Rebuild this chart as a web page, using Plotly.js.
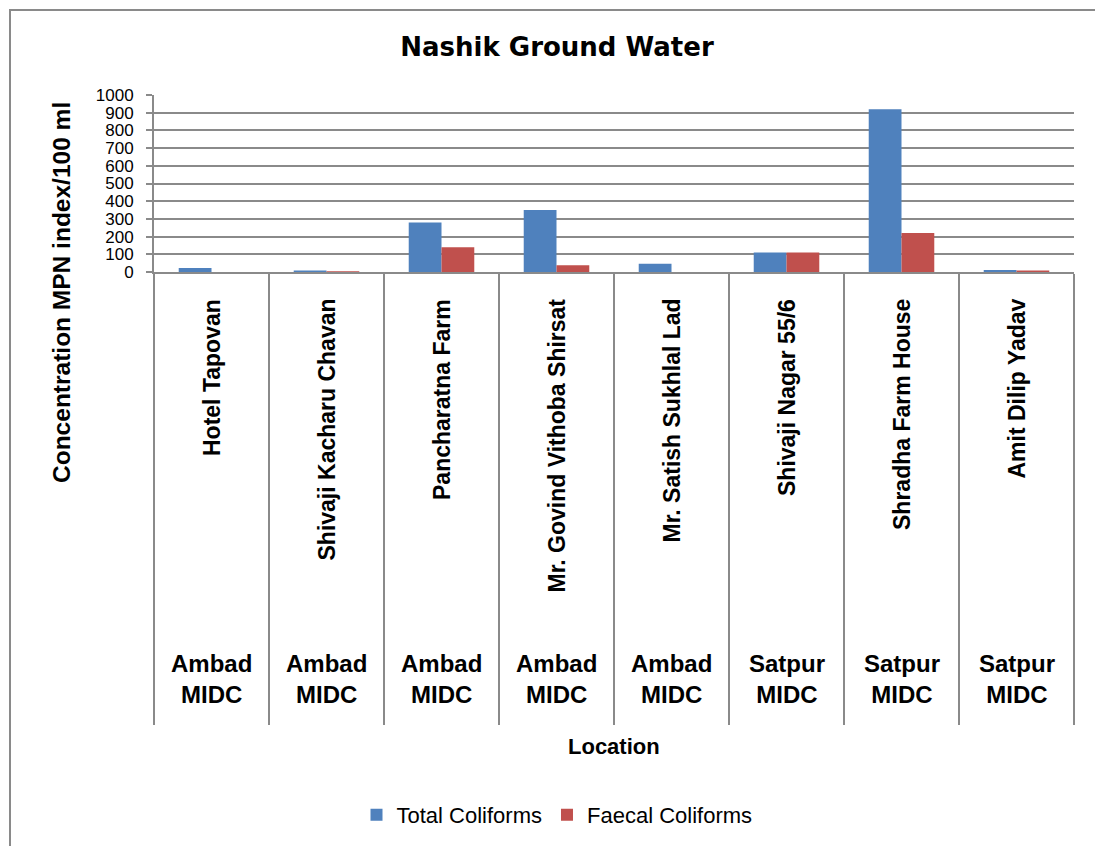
<!DOCTYPE html>
<html>
<head>
<meta charset="utf-8">
<script src="https://cdn.plot.ly/plotly-3.0.1.min.js"></script>
<style>html,body{margin:0;padding:0;background:#fff;} #chart{width:1095px;height:846px;}</style>
</head>
<body>
<div id="chart"></div>
<script>
// ---- data ----
const locations = ['Hotel Tapovan', 'Shivaji Kacharu Chavan', 'Pancharatna Farm', 'Mr. Govind Vithoba Shirsat',
  'Mr. Satish Sukhlal Lad', 'Shivaji Nagar 55/6', 'Shradha Farm House', 'Amit Dilip Yadav'];
const regions = ['Ambad MIDC', 'Ambad MIDC', 'Ambad MIDC', 'Ambad MIDC', 'Ambad MIDC', 'Satpur MIDC', 'Satpur MIDC', 'Satpur MIDC'];
const totalColiforms = [23, 9, 280, 350, 47, 110, 920, 11];
const faecalColiforms = [0, 4, 140, 38, 0, 110, 220, 9];
const yTicks = [0, 100, 200, 300, 400, 500, 600, 700, 800, 900, 1000];

// ---- layout helpers (plot area in px) ----
const W = 1095, H = 846;
const L = 154, R = 1074, T = 95, B = 272;
const px2x = p => (p - L) / (R - L);
const py2y = p => (B - p) / (B - T);

const boldFont = 'Liberation Sans, Arial, sans-serif';
const plainFont = 'Liberation Sans, Arial, sans-serif';

const traces = [
  {type: 'bar', name: 'Total Coliforms', x: locations, y: totalColiforms, marker: {color: '#4F81BD'}},
  {type: 'bar', name: 'Faecal Coliforms', x: locations, y: faecalColiforms, marker: {color: '#C0504D'}}
];

const annotations = [];
locations.forEach((name, i) => {
  annotations.push({x: name, xref: 'x', y: py2y(297), yref: 'paper', text: '<b>' + name + '</b>',
    textangle: -90, showarrow: false, xanchor: 'center', yanchor: 'top',
    font: {family: boldFont, size: 23, color: '#000'}});
  const parts = regions[i].split(' ');
  annotations.push({x: name, xref: 'x', y: py2y(679), yref: 'paper',
    text: '<b>' + parts[0] + '<br>' + parts[1] + '</b>', showarrow: false,
    xanchor: 'center', yanchor: 'middle', font: {family: boldFont, size: 24, color: '#000'}});
});
annotations.push({x: 0.5, xref: 'paper', y: py2y(746), yref: 'paper', text: '<b>Location</b>',
  showarrow: false, xanchor: 'center', yanchor: 'middle', font: {family: boldFont, size: 22, color: '#000'}});
annotations.push({x: px2x(61), xref: 'paper', y: py2y(293), yref: 'paper', text: '<b>Concentration MPN index/100 ml</b>',
  textangle: -90, showarrow: false, xanchor: 'center', yanchor: 'middle', font: {family: boldFont, size: 24.5, color: '#000'}});

const layout = {
  width: W, height: H,
  margin: {l: L, r: W - R, t: T, b: H - B, pad: 0},
  paper_bgcolor: '#fff', plot_bgcolor: '#fff',
  title: {text: '<b>Nashik Ground Water</b>', x: 557 / W, xref: 'container', xanchor: 'center',
    y: 1 - 47 / H, yref: 'container', yanchor: 'middle',
    font: {family: 'DejaVu Sans, Verdana, sans-serif', size: 26, color: '#000'}},
  barmode: 'group', bargap: 0.43, bargroupgap: 0,
  showlegend: true,
  legend: {orientation: 'h', x: 557 / W, xref: 'container', xanchor: 'center',
    y: 1 - 815 / H, yref: 'container', yanchor: 'middle',
    font: {family: plainFont, size: 22, color: '#000'}, itemwidth: 30, tracegroupgap: 0},
  xaxis: {type: 'category', showticklabels: false, showgrid: false, tickson: 'boundaries',
    ticks: 'outside', ticklen: 451, tickwidth: 2, tickcolor: '#8a8a8a',
    showline: true, linecolor: '#8a8a8a', linewidth: 2, zeroline: false, fixedrange: true},
  yaxis: {range: [0, 1000], tickvals: yTicks, ticktext: yTicks.map(String), showgrid: true,
    gridcolor: '#8a8a8a', gridwidth: 2, showline: true, linecolor: '#8a8a8a', linewidth: 2,
    ticks: 'outside', ticklen: 6, tickwidth: 2, tickcolor: '#8a8a8a', zeroline: false,
    tickfont: {family: plainFont, size: 17, color: '#000'}, ticklabelstandoff: 9},
  annotations: annotations,
  shapes: [{type: 'rect', xref: 'paper', yref: 'paper', x0: px2x(10), x1: px2x(1110), y0: py2y(10), y1: py2y(860),
    line: {color: '#8a8a8a', width: 2}, fillcolor: 'rgba(0,0,0,0)', layer: 'below'}]
};

Plotly.newPlot('chart', traces, layout, {displayModeBar: false, staticPlot: true});
</script>
</body>
</html>
